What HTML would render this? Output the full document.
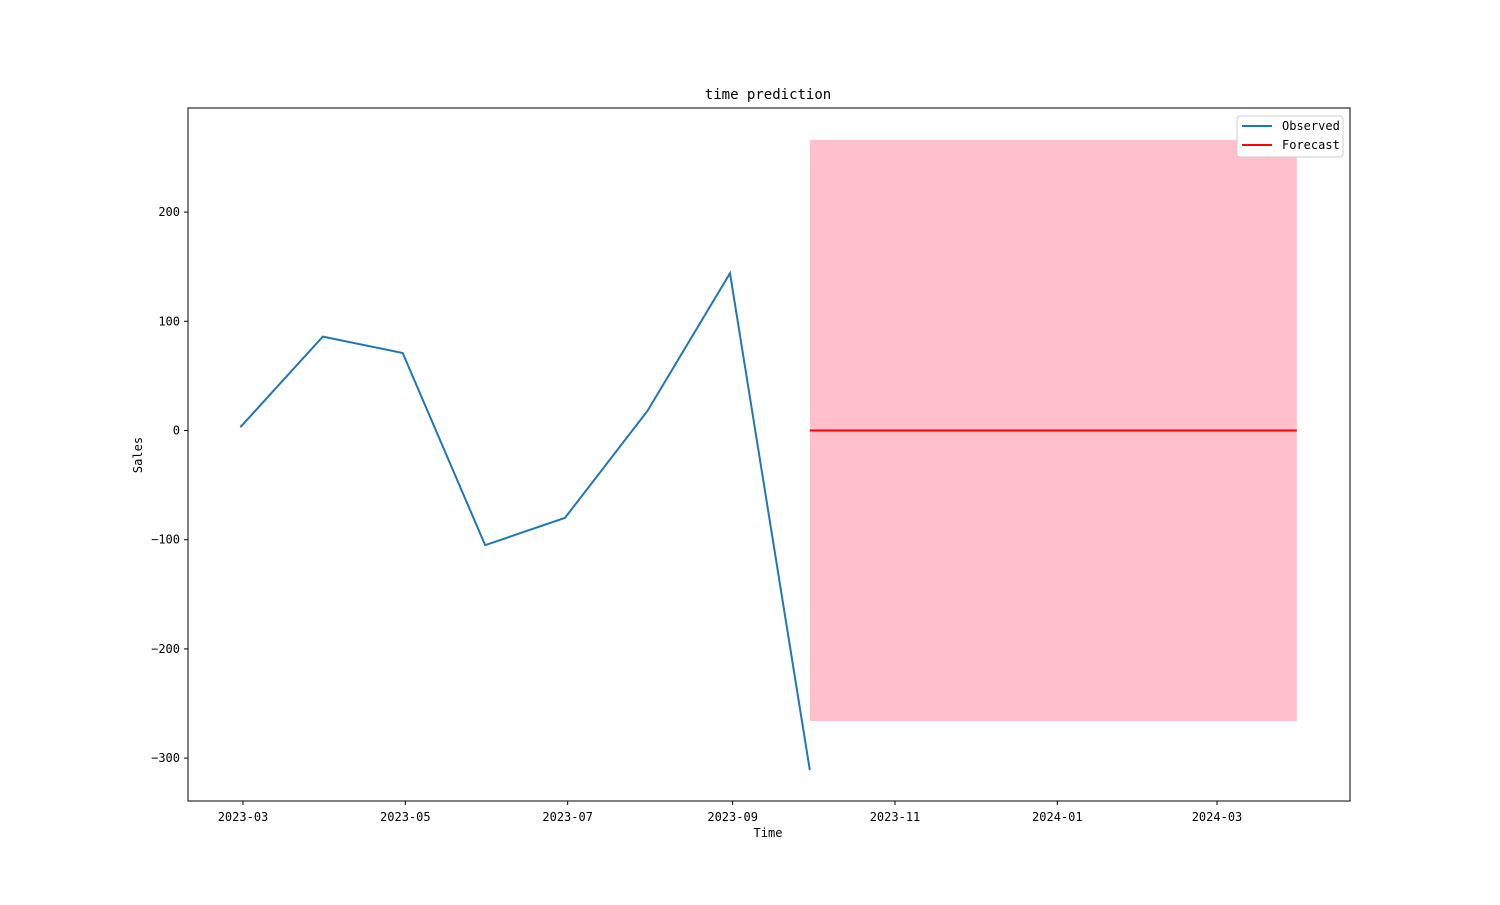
<!DOCTYPE html>
<html><head><meta charset="utf-8"><style>
body{margin:0;background:#fff;}
svg text{font-family:"WenQuanYi Zen Hei","DejaVu Sans Mono",monospace;font-size:12px;fill:#000;}
</style></head><body>
<svg id="chart" width="1500" height="900" xmlns="http://www.w3.org/2000/svg">
<rect width="1500" height="900" fill="#fff"/>
<g id="plot"></g>
</svg>
<script>
const obsDates=["2023-02-28","2023-03-31","2023-04-30","2023-05-31","2023-06-30","2023-07-31","2023-08-31","2023-09-30"];
const obsValues=[3,86,71,-105,-80,18,144,-311];
const fcDates=["2023-09-30","2024-03-31"];
const fcValues=[0,0];
const fcLower=[-266,-266];
const fcUpper=[266,266];
const xTickDates=["2023-03-01","2023-05-01","2023-07-01","2023-09-01","2023-11-01","2024-01-01","2024-03-01"];
const xTickLabels=["2023-03","2023-05","2023-07","2023-09","2023-11","2024-01","2024-03"];
const yTicks=[200,100,0,-100,-200,-300];

const NS="http://www.w3.org/2000/svg";
const g=document.getElementById('plot');
const L=188,R=1350,T=108,B=801;
const d0=Date.parse("2023-03-01"),px0=243,pxPerDay=974/366;
function xs(d){return px0+(Date.parse(d)-d0)/86400000*pxPerDay;}
function ys(v){return 430.5-v*1.092;}
function mk(tag,attrs,parent){const e=document.createElementNS(NS,tag);for(const k in attrs)e.setAttribute(k,attrs[k]);(parent||g).appendChild(e);return e;}

const band=mk('rect',{x:xs(fcDates[0]),y:ys(fcUpper[0]),width:xs(fcDates[1])-xs(fcDates[0]),height:ys(fcLower[0])-ys(fcUpper[0]),fill:'#ffc0cb'});


const obs=mk('polyline',{points:obsDates.map((d,i)=>xs(d)+','+ys(obsValues[i])).join(' '),fill:'none',stroke:'#1f77b4','stroke-width':2});


const fc=mk('polyline',{points:fcDates.map((d,i)=>xs(d)+','+ys(fcValues[i])).join(' '),fill:'none',stroke:'#ff0000','stroke-width':2});


const fr=mk('rect',{x:L,y:T,width:R-L,height:B-T,fill:'none',stroke:'#000','stroke-width':1});


xTickDates.forEach((d,i)=>{const x=xs(d);
 mk('line',{x1:x,x2:x,y1:B,y2:B+4,stroke:'#000'});
 const t=mk('text',{x:x,y:B+20,'text-anchor':'middle'});t.textContent=xTickLabels[i];
 
 });
yTicks.forEach(v=>{const y=ys(v);
 mk('line',{x1:L-4,x2:L,y1:y,y2:y,stroke:'#000'});
 const t=mk('text',{x:L-8,y:y+4,'text-anchor':'end'});t.textContent=v<0?'\u2212'+(-v):String(v);
 
 });
let t=mk('text',{x:768,y:99,'text-anchor':'middle'});t.textContent='time prediction';t.style.fontSize='14px';


t=mk('text',{x:768,y:837,'text-anchor':'middle'});t.textContent='Time';


t=mk('text',{x:142,y:455,'text-anchor':'middle',transform:'rotate(-90 142 455)'});t.textContent='Sales';


const lg=mk('g',{});


mk('rect',{x:1237,y:116,width:106,height:41,fill:'#fff',stroke:'#ccc',rx:3},lg);
mk('line',{x1:1242,x2:1272,y1:126,y2:126,stroke:'#1f77b4','stroke-width':2},lg);
t=mk('text',{x:1282,y:130},lg);t.textContent='Observed';


mk('line',{x1:1242,x2:1272,y1:145,y2:145,stroke:'#ff0000','stroke-width':2},lg);
t=mk('text',{x:1282,y:149},lg);t.textContent='Forecast';


</script>
</body></html>
